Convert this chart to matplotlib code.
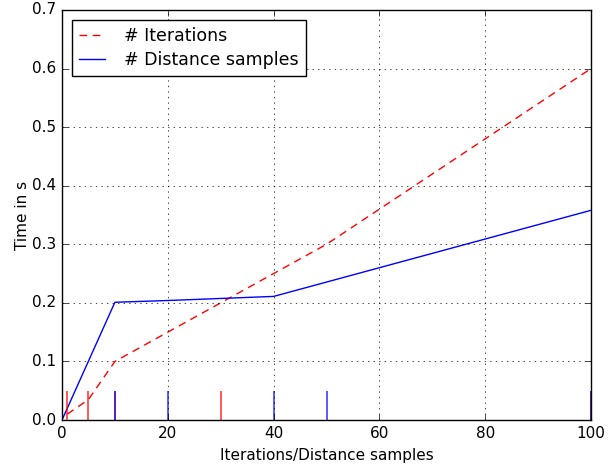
import matplotlib
matplotlib.use("Agg")
from matplotlib import pyplot as plt

# Timing per number of iterations
iter_x = [1, 5, 10, 30, 50, 100]
iter_time = [0.01, 0.035, 0.1, 0.2, 0.3, 0.6]

# Timing per number of distance samples
dist_x = [0, 10, 20, 40, 100]
dist_time = [0.0, 0.201, 0.204, 0.211, 0.358]

# Marker ticks at the bottom of the plot
iter_marks = [1, 5, 10, 30, 100]
dist_marks = [10, 20, 40, 50, 100]
mark_height = 0.05

plt.style.use('classic')
plt.rcParams['figure.facecolor'] = 'white'
plt.rcParams['savefig.facecolor'] = 'white'

fig = plt.figure(figsize=(6.13, 4.65), dpi=100)
ax = fig.add_axes([62 / 613, 1 - 420 / 465, 529 / 613, 410 / 465])

ax.plot(iter_x, iter_time, 'r--', dashes=(5.5, 4), label='# Iterations')
ax.plot(dist_x, dist_time, 'b-', label='# Distance samples')
ax.vlines(iter_marks, 0, mark_height, colors='r', alpha=0.7, linewidth=1.3)
ax.vlines(dist_marks, 0, mark_height, colors='b', alpha=0.7, linewidth=1.3)

ax.set_xlim(0, 100)
ax.set_ylim(0, 0.7)
ax.set_xlabel('Iterations/Distance samples', fontsize=11)
ax.set_ylabel('Time in s', fontsize=11, labelpad=1.5)
ax.tick_params(labelsize=11)
ax.grid(True)
ax.legend(loc='upper left', fontsize=12.5, numpoints=1, handlelength=1.5,
          handletextpad=1.1, labelspacing=0.35, borderaxespad=0.6)

fig.savefig('out.png', dpi=100)
plt.close()
